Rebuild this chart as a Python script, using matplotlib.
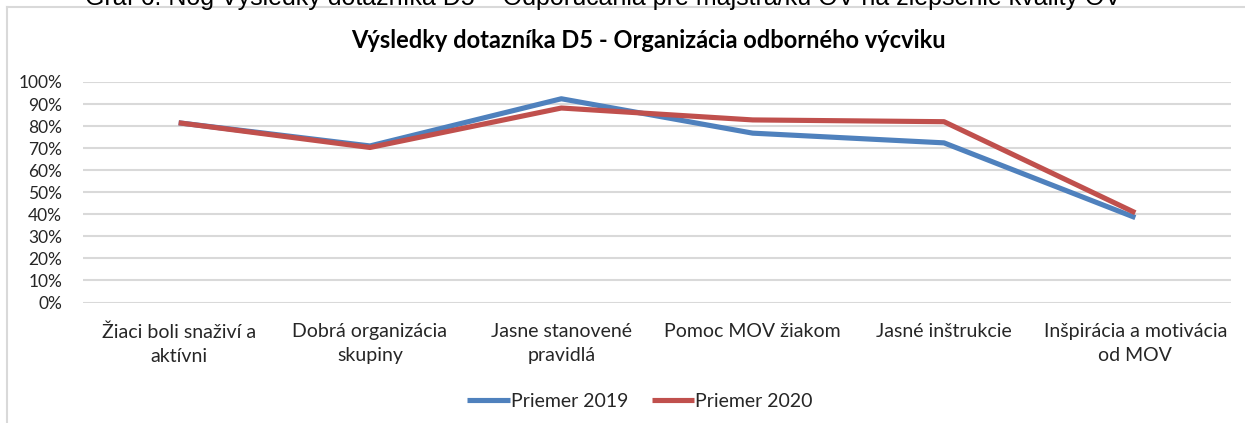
import matplotlib
matplotlib.use("Agg")
import matplotlib.pyplot as plt
from matplotlib.lines import Line2D
from matplotlib.ticker import PercentFormatter

# categories and values
categories = [
    "Žiaci boli snaživí a\naktívni",
    "Dobrá organizácia\nskupiny",
    "Jasne stanovené\npravidlá",
    "Pomoc MOV žiakom",
    "Jasné inštrukcie",
    "Inšpirácia a motivácia\nod MOV",
]
avg_2019 = [0.815, 0.710, 0.924, 0.768, 0.724, 0.385]
avg_2020 = [0.815, 0.703, 0.882, 0.828, 0.820, 0.407]
series_names = ["Priemer 2019", "Priemer 2020"]
y_ticks = [i / 10 for i in range(11)]

W, H = 1245, 423
fig = plt.figure(figsize=(W / 100, H / 100), dpi=100)
fig.patch.set_facecolor("white")

def px(x0, y0, x1, y1):
    # pixel box -> figure fraction [left, bottom, width, height]
    return [x0 / W, 1 - y1 / H, (x1 - x0) / W, (y1 - y0) / H]

ax = fig.add_axes(px(83, 82, 1231, 302.5))
x = list(range(len(categories)))

l1, = ax.plot(x, avg_2019, color="#4F81BD", linewidth=3.7, solid_capstyle="butt")
l2, = ax.plot(x, avg_2020, color="#C0504D", linewidth=3.7, solid_capstyle="butt")

ax.set_xlim(-0.5, len(categories) - 0.5)
ax.set_ylim(0, 1)
ax.set_yticks(y_ticks)
ax.yaxis.set_major_formatter(PercentFormatter(1.0, decimals=0))
ax.set_xticks(x)
ax.set_xticklabels(categories, fontsize=14, family="Lato", color="#262626",
                   linespacing=1.5)
for lbl in ax.get_yticklabels():
    lbl.set_fontsize(12.5)
    lbl.set_family("Lato")
    lbl.set_color("#262626")

ax.grid(axis="y", color="#D9D9D9", linewidth=1.5)
ax.set_axisbelow(True)
for s in ax.spines.values():
    s.set_visible(False)
ax.tick_params(axis="both", length=0)
ax.tick_params(axis="x", pad=15)
ax.tick_params(axis="y", pad=15)

fig.text(648 / W, 1 - 41 / H, "Výsledky dotazníka D5 - Organizácia odborného výcviku",
         ha="center", va="center", fontsize=17, fontweight="bold",
         family="Lato", color="#000000")

# caption above the chart, cut off by the crop as in the source
fig.text(603 / W, 1 - 4.5 / H,
         "Graf 6. Nog Výsledky dotazníka D5 – Odporúčania pre majstra/ku OV na zlepšenie kvality OV",
         ha="center", va="baseline", fontsize=18, family="Liberation Sans", color="#000000")

# chart frame (left and top edges visible)
fig.add_artist(Line2D([7 / W, 7 / W], [0, 1 - 6.7 / H], transform=fig.transFigure,
                      color="#D9D9D9", linewidth=1.5))
fig.add_artist(Line2D([7 / W, 1], [1 - 6.7 / H, 1 - 6.7 / H], transform=fig.transFigure,
                      color="#D9D9D9", linewidth=1.5))

leg = fig.legend([l1, l2], series_names, loc="center", bbox_to_anchor=(640 / W, 1 - 401 / H),
                 ncol=2, frameon=False, handlelength=2.2, handletextpad=0.05,
                 columnspacing=1.2, prop={"family": "Lato", "size": 14})
for t in leg.get_texts():
    t.set_color("#262626")

fig.savefig("out.png", dpi=100, facecolor="white")
